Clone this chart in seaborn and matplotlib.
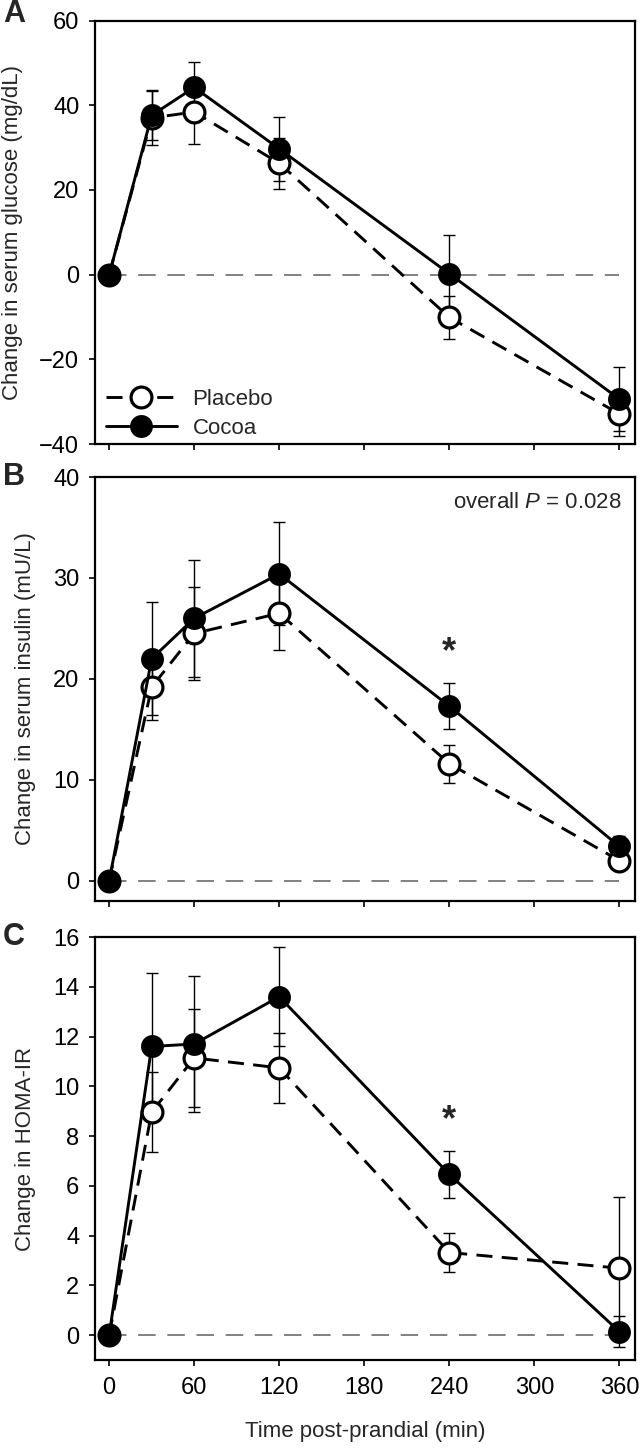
import numpy as np
import pandas as pd
import seaborn as sns
import matplotlib
matplotlib.use('Agg')
import matplotlib.pyplot as plt

# time points (min)
times = [0, 30, 60, 120, 240, 360]
xticks = [0, 60, 120, 180, 240, 300, 360]

# A: change in serum glucose (mg/dL), mean and SE
glucose_placebo = [0, 37.0, 38.4, 26.3, -10.1, -32.9]
glucose_placebo_se = [0, 6.5, 7.5, 6.0, 5.0, 5.2]
glucose_cocoa = [0, 37.6, 44.2, 29.7, 0.2, -29.4]
glucose_cocoa_se = [0, 5.8, 5.9, 7.5, 9.2, 7.5]

# B: change in serum insulin (mU/L)
insulin_placebo = [0, 19.2, 24.5, 26.5, 11.6, 2.0]
insulin_placebo_se = [0, 3.3, 4.6, 3.6, 1.9, 0.8]
insulin_cocoa = [0, 22.0, 26.0, 30.4, 17.3, 3.4]
insulin_cocoa_se = [0, 5.6, 5.8, 5.1, 2.3, 1.0]

# C: change in HOMA-IR
homa_placebo = [0, 8.96, 11.14, 10.74, 3.32, 2.69]
homa_placebo_se = [0, 1.6, 1.97, 1.41, 0.8, 2.85]
homa_cocoa = [0, 11.6, 11.7, 13.6, 6.46, 0.14]
homa_cocoa_se = [0, 2.94, 2.75, 2.0, 0.93, 0.63]

sns.set_style('ticks')
plt.rcParams['font.family'] = ['Liberation Sans', 'DejaVu Sans']
plt.rcParams['mathtext.fontset'] = 'custom'
plt.rcParams['mathtext.rm'] = 'Liberation Sans'
plt.rcParams['mathtext.it'] = 'Liberation Sans:italic'

TICK_FS = 17
LABEL_FS = 16

W, H = 641, 1451
fig = plt.figure(figsize=(W / 100, H / 100), dpi=100)


def panel_axes(top_px, bottom_px, left_px=95, right_px=635):
    return fig.add_axes([left_px / W, 1 - bottom_px / H,
                         (right_px - left_px) / W, (bottom_px - top_px) / H])


def draw_panel(ax, placebo, placebo_se, cocoa, cocoa_se):
    ax.plot([times[0], times[-1]], [0, 0], color='#808080', lw=1.4,
            ls=(0, (9, 6)), zorder=1)
    for vals, se in [(placebo, placebo_se), (cocoa, cocoa_se)]:
        ax.errorbar(times, vals, yerr=se, fmt='none', ecolor='k',
                    elinewidth=1.0, capsize=4.5, capthick=1.0, zorder=2)
    df = pd.DataFrame({'time': times, 'placebo': placebo, 'cocoa': cocoa})
    sns.lineplot(data=df, x='time', y='placebo', ax=ax, color='k',
                 lw=2.1, ls=(0, (5.5, 3.2)), marker='o', ms=15,
                 mfc='white', mec='k', mew=2.3, label='Placebo', zorder=3,
                 errorbar=None, legend=False)
    sns.lineplot(data=df, x='time', y='cocoa', ax=ax, color='k',
                 lw=2.1, marker='o', ms=15, mfc='k', mec='k', mew=1.5,
                 label='Cocoa', zorder=4, errorbar=None, legend=False)
    ax.set_xlim(-10, 371)
    ax.set_xticks(xticks)
    ax.set_xlabel('')
    for sp in ax.spines.values():
        sp.set_linewidth(1.6)
        sp.set_color('k')
    ax.tick_params(axis='both', direction='out', length=4.3, width=1.2,
                   colors='k', labelsize=TICK_FS, top=False, right=False)
    ax.tick_params(axis='y', pad=7)
    ax.tick_params(axis='x', pad=8)


axA = panel_axes(20.5, 444)
axB = panel_axes(477, 901)
axC = panel_axes(937, 1360)

draw_panel(axA, glucose_placebo, glucose_placebo_se, glucose_cocoa, glucose_cocoa_se)
draw_panel(axB, insulin_placebo, insulin_placebo_se, insulin_cocoa, insulin_cocoa_se)
draw_panel(axC, homa_placebo, homa_placebo_se, homa_cocoa, homa_cocoa_se)

axA.set_ylim(-40, 60)
axA.set_yticks(np.arange(-40, 61, 20))
axB.set_ylim(-2, 40)
axB.set_yticks(np.arange(0, 41, 10))
axC.set_ylim(-1, 16)
axC.set_yticks(np.arange(0, 17, 2))

axA.set_ylabel('Change in serum glucose (mg/dL)', fontsize=LABEL_FS, labelpad=12)
axB.set_ylabel('Change in serum insulin (mU/L)', fontsize=LABEL_FS, labelpad=12)
axC.set_ylabel('Change in HOMA-IR', fontsize=LABEL_FS, labelpad=12)

axA.tick_params(axis='x', labelbottom=False)
axB.tick_params(axis='x', labelbottom=False)
axC.set_xlabel('Time post-prandial (min)', fontsize=LABEL_FS, labelpad=16)

axA.legend(loc='lower left', bbox_to_anchor=(0.02, 0.012), frameon=False,
           fontsize=LABEL_FS, handlelength=3.2, handletextpad=0.7,
           borderpad=0, borderaxespad=0, labelspacing=0.35)

axB.text(0.976, 0.941, r'overall $\mathit{P}$ = 0.028', transform=axB.transAxes,
         ha='right', va='center', fontsize=LABEL_FS)
axB.text(240, 22.6, '*', ha='center', va='center', fontsize=26, fontweight='bold')
axC.text(240, 8.6, '*', ha='center', va='center', fontsize=26, fontweight='bold')

for letter, ypx in [('A', 14.5), ('B', 477), ('C', 937)]:
    fig.text(3 / W, 1 - ypx / H, letter, ha='left', va='center',
             fontsize=22, fontweight='bold')

fig.savefig('out.png', dpi=100)
